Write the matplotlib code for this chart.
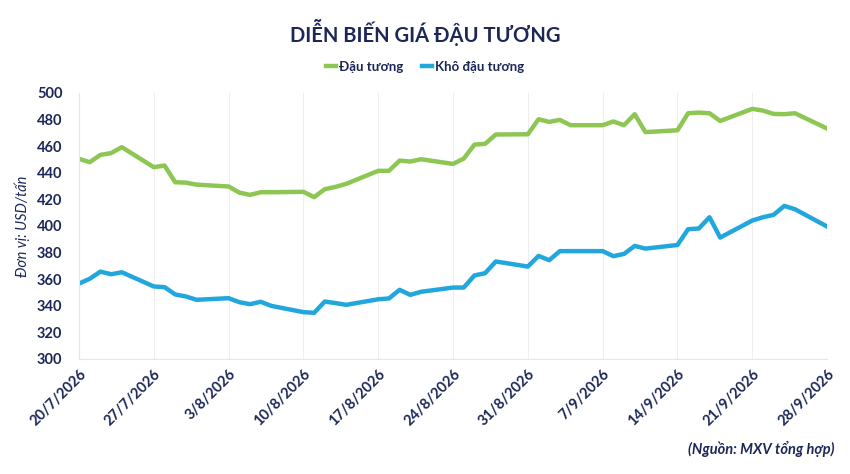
import matplotlib
matplotlib.use("Agg")
import matplotlib.pyplot as plt
import pandas as pd

# trading days 20/7/2026 -> 28/9/2026
dates = pd.bdate_range("2026-07-20", "2026-09-28")

dau_tuong = [
    450.4, 447.9, 453.4, 454.7, 459.2,
    444.1, 445.4, 432.8, 432.5, 431.0,
    429.6, 425.0, 423.3, 425.3, 425.3,
    425.6, 421.6, 427.6, 429.3, 431.6,
    441.4, 441.4, 449.1, 448.4, 450.1,
    446.6, 450.6, 461.1, 461.7, 468.7,
    468.9, 480.2, 478.2, 479.7, 475.7,
    475.7, 478.5, 475.7, 484.0, 470.5,
    471.9, 484.7, 485.2, 484.7, 478.9,
    488.0, 486.7, 484.2, 484.0, 484.7,
    473.2,
]

kho_dau_tuong = [
    356.6, 360.2, 365.6, 363.6, 365.1,
    354.4, 353.9, 348.4, 346.9, 344.4,
    345.6, 342.6, 341.1, 342.9, 339.8,
    335.1, 334.6, 343.1, 341.9, 340.6,
    344.8, 345.4, 351.9, 348.1, 350.4,
    353.6, 353.6, 362.7, 364.4, 373.2,
    369.4, 377.4, 374.2, 381.0, 381.0,
    381.0, 377.2, 378.9, 384.9, 382.9,
    385.6, 397.5, 398.0, 406.5, 391.2,
    404.0, 406.5, 408.3, 415.0, 412.5,
    399.5,
]

tick_dates = pd.date_range("2026-07-20", "2026-09-28", freq="7D")
tick_labels = [f"{d.day}/{d.month}/{d.year}" for d in tick_dates]

navy = "#1c2657"
green = "#8dc653"
blue = "#22a7dc"

plt.rcParams["font.family"] = ["Lato", "DejaVu Sans"]

fig = plt.figure(figsize=(8.5, 4.74), dpi=100)
ax = fig.add_axes([0.093, 0.243, 0.88, 0.561])

ax.plot(dates, dau_tuong, color=green, linewidth=3.2, label="Đậu tương")
ax.plot(dates, kho_dau_tuong, color=blue, linewidth=3.2, label="Khô đậu tương")

ax.set_ylim(300, 500)
ax.set_yticks(range(300, 501, 20))
ax.set_xlim(dates[0], dates[-1])
ax.set_xticks(tick_dates)
ax.set_xticklabels(tick_labels, rotation=45, ha="right", rotation_mode="anchor")

ax.tick_params(axis="both", length=0, labelsize=10.5, labelcolor=navy)
for lbl in ax.get_xticklabels() + ax.get_yticklabels():
    lbl.set_fontweight("bold")
ax.tick_params(axis="x", pad=6)
ax.tick_params(axis="y", pad=12)

ax.grid(axis="x", color="#eeeeee", linewidth=0.8)
for side in ["top", "right"]:
    ax.spines[side].set_visible(False)
for side in ["left", "bottom"]:
    ax.spines[side].set_color("#e6e6e6")

ax.set_ylabel("Đơn vị: USD/tấn", fontsize=10.5, color=navy, style="italic", labelpad=5)

fig.text(0.5, 0.932, "DIỄN BIẾN GIÁ ĐẬU TƯƠNG", ha="center", va="center",
         fontsize=14.5, fontweight="bold", color=navy)

leg = fig.legend(loc="center", bbox_to_anchor=(0.5, 0.859), ncol=2, frameon=False,
                 handlelength=0.8, handletextpad=0.2, columnspacing=1.4,
                 prop={"size": 9.5, "weight": "bold"})
for t in leg.get_texts():
    t.set_color(navy)

fig.text(0.982, 0.053, "(Nguồn: MXV tổng hợp)", ha="right", va="center",
         fontsize=10.5, fontweight="bold", style="italic", color=navy)

fig.savefig("out.png", dpi=100)
